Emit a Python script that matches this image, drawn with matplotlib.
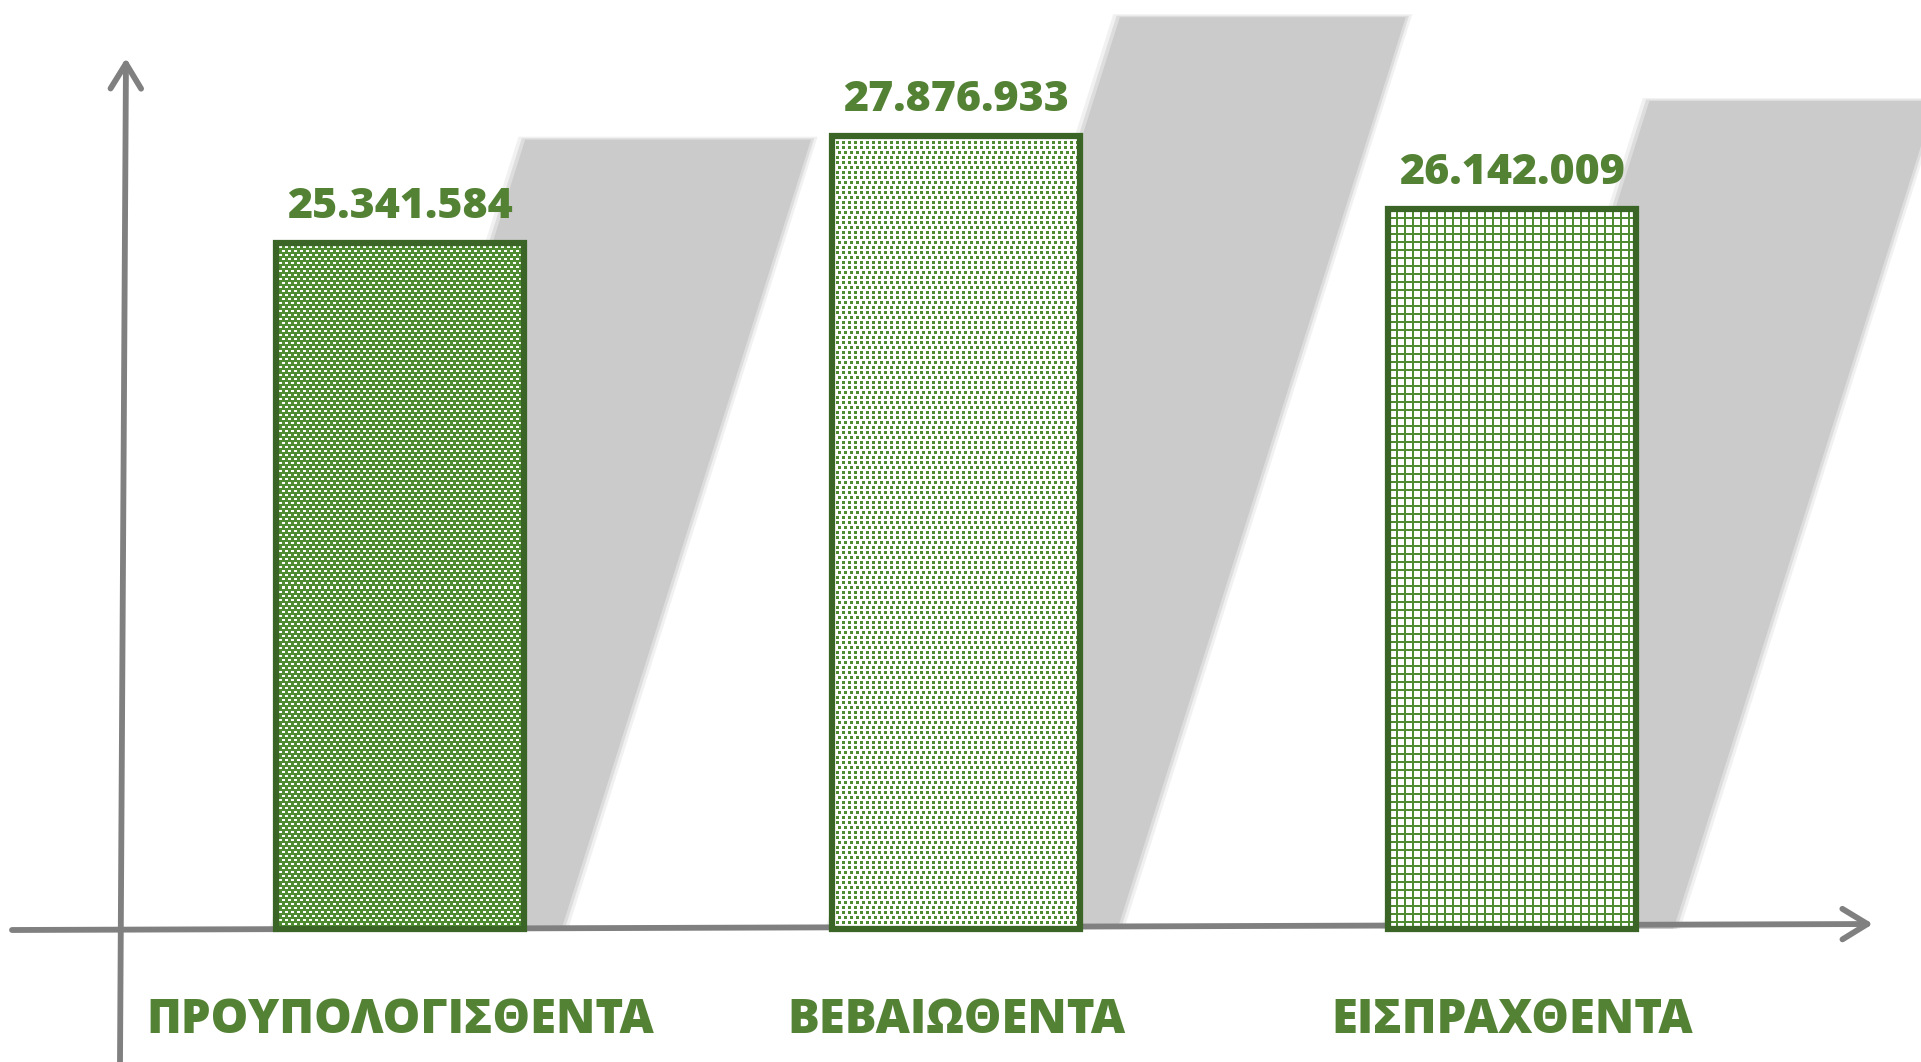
import numpy as np
import matplotlib
matplotlib.use('Agg')
from matplotlib import pyplot as plt
from matplotlib.patches import Polygon

categories = ['ΠΡΟΥΠΟΛΟΓΙΣΘΕΝΤΑ', 'ΒΕΒΑΙΩΘΕΝΤΑ', 'ΕΙΣΠΡΑΧΘΕΝΤΑ']
values = [25341584, 27876933, 26142009]
fills = ['dash', 'speckle', 'grid']

GREEN_TXT = '#548235'
GREEN = np.array([0x4f, 0x8b, 0x31]) / 255
WHITE = np.array([1.0, 1.0, 1.0])
EDGE = '#3b6526'
GRAY = '#808080'
SHADOW = '#cbcbcb'

plt.rcParams['font.family'] = ['Open Sans', 'DejaVu Sans']


def texture(kind, nx, ny):
    # small repeating pattern, one texel per output pixel
    yy, xx = np.mgrid[0:ny, 0:nx]
    img = np.empty((ny, nx, 3))
    if kind == 'dash':
        img[:] = GREEN
        row = yy // 4
        mask = (yy % 4 < 2) & ((xx + 3 * (row % 2)) % 6 < 3)
        img[mask] = WHITE
    elif kind == 'speckle':
        img[:] = WHITE
        row = yy // 5
        shift = (row * row * 5 + row * 3) % 6
        mask = ((xx + shift) % 6 < 3) & (yy % 5 < 3)
        img[mask] = GREEN
    else:
        img[:] = WHITE
        mask = (xx % 8 < 2) | (yy % 8 < 2)
        img[mask] = GREEN
    return img


fig = plt.figure(figsize=(19.21, 10.62), dpi=100)
ax = fig.add_axes([0, 0, 1, 1])
ax.set_axis_off()

W, H = 1921, 1062
base = 9.0e6
xpx = 556.0          # pixels per category step
ypx = 42.0 / 1e6     # pixels per unit
x0 = 400
y0 = 929
xlim = (-x0 / xpx, (W - x0) / xpx)
ylim = (base - (H - y0) / ypx, base + y0 / ypx)
ax.set_xlim(*xlim)
ax.set_ylim(*ylim)

x = np.arange(len(categories))
w = 0.447

# slanted shadows behind the bars
k = 0.316 * ypx / xpx  # x shift per y unit
for xi, v in zip(x, values):
    h = 1.15 * (v - base)
    ws = 1.15 * w
    left = xi - w / 2
    pts = [(left, base), (left + ws, base),
           (left + ws + k * h, base + h), (left + k * h, base + h)]
    for grow, a in [(0.012, 0.25), (0.006, 0.5)]:
        gp = [(left - grow, base), (left + ws + grow, base),
              (left + ws + grow + k * h, base + h + grow * 6e6),
              (left - grow + k * h, base + h + grow * 6e6)]
        ax.add_patch(Polygon(gp, closed=True, facecolor=SHADOW, edgecolor='none', alpha=a, zorder=1))
    ax.add_patch(Polygon(pts, closed=True, facecolor=SHADOW, edgecolor='none', zorder=1))

# axes arrows
arrow = dict(arrowstyle='->,head_length=0.9,head_width=0.55', lw=4.2, color=GRAY,
             shrinkA=0, shrinkB=0, mutation_scale=20, capstyle='round', joinstyle='round')
ax.annotate('', xy=(126 / W, 1 - 58 / H), xytext=(120 / W, 0), xycoords='axes fraction',
            arrowprops=arrow, zorder=2)
ax.annotate('', xy=(1873 / W, 1 - 924 / H), xytext=(12 / W, 1 - 930 / H), xycoords='axes fraction',
            arrowprops=arrow, zorder=2)

# bars: textured fill then bevel-like border
bars = ax.bar(x, np.array(values) - base, bottom=base, width=w, color='none',
              edgecolor=EDGE, linewidth=4.5, zorder=4)
for rect, kind in zip(bars, fills):
    l, b = rect.get_x(), rect.get_y()
    r, t = l + rect.get_width(), b + rect.get_height()
    (px0, py0), (px1, py1) = ax.transData.transform([(l, b), (r, t)])
    tex = texture(kind, int(round(px1 - px0)), int(round(py1 - py0)))
    ax.imshow(tex, extent=(l, r, b, t), interpolation='nearest', aspect='auto', zorder=3)

ax.set_xlim(*xlim)
ax.set_ylim(*ylim)

for xi, v in zip(x, values):
    lbl = f'{v:,}'.replace(',', '.')
    ax.annotate(lbl, (xi, v), xytext=(0, 18), textcoords='offset points',
                ha='center', va='baseline', fontsize=31, fontweight='heavy',
                color=GREEN_TXT, zorder=5)

for xi, c in zip(x, categories):
    ax.annotate(c, (xi, base), xytext=(0, -66), textcoords='offset points',
                ha='center', va='center', fontsize=34, fontweight='heavy',
                color=GREEN_TXT, zorder=5)

fig.savefig('out.png', dpi=100, facecolor='white')
